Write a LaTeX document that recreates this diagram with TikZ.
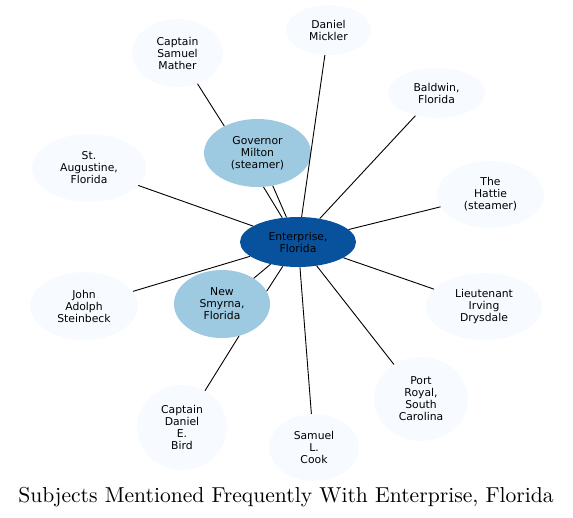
\documentclass[tikz,border=0pt]{standalone}
\usepackage{fontspec}
\newfontfamily\subjectfont{DejaVu Sans}
\newfontfamily\titlefont{lmroman10-regular.otf}
\usepackage{tikz}
\usetikzlibrary{shapes.geometric}
\definecolor{hubblue}{HTML}{08519C}
\definecolor{midblue}{HTML}{9ECAE1}
\definecolor{paleblue}{HTML}{F7FBFF}

\begin{document}
\begin{tikzpicture}
    [
        x=1pt, y=-1pt,
        subject/.style={ellipse, inner sep=0pt, align=center, fill=#1,
                        font=\subjectfont\fontsize{10.8}{12}\selectfont},
        subject/.default=paleblue,
        link/.style={line width=0.9pt}
    ]
    \useasboundingbox (0,0) rectangle (573,517);
    \node (ent) at (298,242) [subject=hubblue, minimum width=116pt, minimum height=50pt] {Enterprise,\\Florida};
    \node (gm) at (257.5,153) [subject=midblue, minimum width=107pt, minimum height=68pt] {Governor\\Milton\\(steamer)};
    \node (ns) at (222,304) [subject=midblue, minimum width=96pt, minimum height=68pt] {New\\Smyrna,\\Florida};
    \node (mather) at (177.5,53) [subject, minimum width=91pt, minimum height=68pt] {Captain\\Samuel\\Mather};
    \node (mickler) at (328.5,30) [subject, minimum width=85pt, minimum height=50pt] {Daniel\\Mickler};
    \node (baldwin) at (436.5,93) [subject, minimum width=97pt, minimum height=50pt] {Baldwin,\\Florida};
    \node (staug) at (89,168) [subject, minimum width=114pt, minimum height=68pt] {St.\\Augustine,\\Florida};
    \node (hattie) at (490.5,194.5) [subject, minimum width=107pt, minimum height=67pt] {The\\Hattie\\(steamer)};
    \node (steinbeck) at (84,306) [subject, minimum width=108pt, minimum height=68pt] {John\\Adolph\\Steinbeck};
    \node (drysdale) at (484,306.5) [subject, minimum width=116pt, minimum height=67pt] {Lieutenant\\Irving\\Drysdale};
    \node (bird) at (182,427.5) [subject, minimum width=90pt, minimum height=85pt] {Captain\\Daniel\\E.\\Bird};
    \node (cook) at (314,447.5) [subject, minimum width=90pt, minimum height=67pt] {Samuel\\L.\\Cook};
    \node (portroyal) at (421,399) [subject, minimum width=94pt, minimum height=84pt] {Port\\Royal,\\South\\Carolina};
    % links
    \draw [link] (mather.303) -- (gm.141);
    \draw [link] (gm.280) -- (ent.123);
    \draw [link] (gm.295) -- (ent.115);
    \draw [link] (ns.39) -- (ent.219);
    \draw [link] (ns.16) -- (ent.238);
    \draw [link] (bird.58) -- (ns.298);
    \foreach \n in {mickler, baldwin, staug, hattie, steinbeck, drysdale, cook, portroyal}
        \draw [link] (ent) -- (\n);
    \node (title) at (286,502) [anchor=base, font=\titlefont\fontsize{21.6}{26}\selectfont]
        {Subjects Mentioned Frequently With Enterprise, Florida};
\end{tikzpicture}
\end{document}
